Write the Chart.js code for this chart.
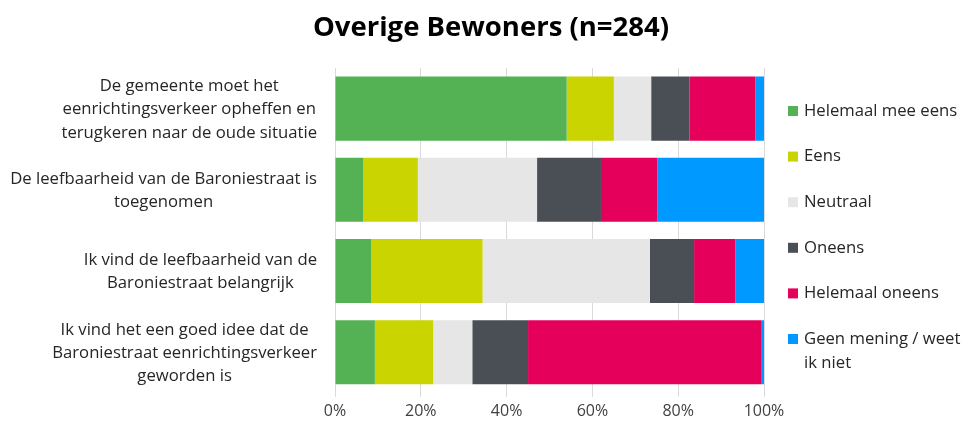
<!DOCTYPE html>
<html>
<head>
<meta charset="utf-8">
<script src="https://cdn.jsdelivr.net/npm/chart.js@4/dist/chart.umd.min.js"></script>
<style>
  html, body { margin: 0; padding: 0; background: #fff; }
  #wrap { width: 966px; height: 426px; }
</style>
</head>
<body>
<div id="wrap"><canvas id="chart" width="966" height="426"></canvas></div>
<script>
// Statements (y-axis categories)
const categories = [
    ['De gemeente moet het', 'eenrichtingsverkeer opheffen en', 'terugkeren naar de oude situatie'],
    ['De leefbaarheid van de Baroniestraat is', 'toegenomen'],
    ['Ik vind de leefbaarheid van de', 'Baroniestraat belangrijk'],
    ['Ik vind het een goed idee dat de', 'Baroniestraat eenrichtingsverkeer', 'geworden is']
];

// Answer shares in percent
const helemaalMeeEens = [54.0, 6.6, 8.4, 9.3];
const eens = [11.0, 12.7, 26.0, 13.6];
const neutraal = [8.7, 27.8, 39.0, 9.1];
const oneens = [8.9, 14.9, 10.3, 13.0];
const helemaalOneens = [15.4, 13.1, 9.6, 54.3];
const geenMening = [2.0, 24.9, 6.7, 0.7];

const seriesNames = ['Helemaal mee eens', 'Eens', 'Neutraal', 'Oneens', 'Helemaal oneens', 'Geen mening / weet ik niet'];
const legendLines = [['Helemaal mee eens'], ['Eens'], ['Neutraal'], ['Oneens'], ['Helemaal oneens'], ['Geen mening / weet', 'ik niet']];
const seriesColors = ['#55b254', '#c9d400', '#e6e6e6', '#4a4f56', '#e5005b', '#0099ff'];

const xTicks = [0, 20, 40, 60, 80, 100];
const titleText = 'Overige Bewoners (n=284)';

const FONT = '"Open Sans", "Noto Sans", sans-serif';

// draws title, wrapped category labels and the legend
const extrasPlugin = {
    id: 'extras',
    afterDraw(chart) {
        const ctx = chart.ctx;
        const y = chart.scales.y;
        ctx.save();

        // title
        ctx.fillStyle = '#000';
        ctx.font = `bold 27.5px ${FONT}`;
        ctx.textAlign = 'center';
        ctx.textBaseline = 'middle';
        ctx.fillText(titleText, 491, 28);

        // category labels: block right aligned, lines centred inside the block
        ctx.font = `16.7px ${FONT}`;
        ctx.fillStyle = '#262626';
        const lineH = 23.3;
        categories.forEach((lines, i) => {
            const widest = Math.max(...lines.map(l => ctx.measureText(l).width));
            const cx = 317 - widest / 2;
            const cy = y.getPixelForValue(i) + 1;
            const top = cy - (lines.length - 1) * lineH / 2;
            lines.forEach((l, k) => ctx.fillText(l, cx, top + k * lineH));
        });

        // legend
        ctx.textAlign = 'left';
        chart.data.datasets.forEach((ds, i) => {
            const ly = 111 + i * 45.6;
            ctx.fillStyle = ds.backgroundColor;
            ctx.fillRect(788, ly - 5, 10, 10);
            ctx.fillStyle = '#262626';
            legendLines[i].forEach((l, k) => ctx.fillText(l, 804, ly + k * 24));
        });
        ctx.restore();
    }
};

const seriesData = [helemaalMeeEens, eens, neutraal, oneens, helemaalOneens, geenMening];

new Chart(document.getElementById('chart'), {
    type: 'bar',
    data: {
        labels: categories,
        datasets: seriesNames.map((name, i) => ({
            label: name,
            data: seriesData[i],
            backgroundColor: seriesColors[i],
            borderWidth: 0,
            barPercentage: 0.79,
            categoryPercentage: 1
        }))
    },
    options: {
        indexAxis: 'y',
        responsive: false,
        animation: false,
        layout: { padding: { top: 68, right: 202, bottom: 0, left: 0 } },
        plugins: {
            legend: { display: false },
            title: { display: false },
            tooltip: { enabled: false }
        },
        scales: {
            x: {
                stacked: true,
                min: 0,
                max: 100,
                afterBuildTicks(scale) { scale.ticks = xTicks.map(v => ({ value: v })); },
                grid: { color: '#d9d9d9', lineWidth: 1, tickLength: 4 },
                border: { display: false },
                ticks: {
                    padding: 5,
                    color: '#404040',
                    font: { family: FONT, size: 16 },
                    callback: (v) => v + '%'
                }
            },
            y: {
                stacked: true,
                grid: { display: false },
                border: { display: false },
                ticks: { display: false },
                afterFit(scale) { scale.width = 335; }
            }
        }
    },
    plugins: [extrasPlugin]
});
</script>
</body>
</html>
